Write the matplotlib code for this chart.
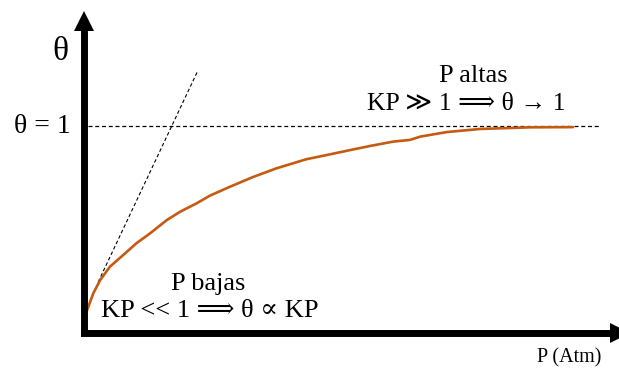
import matplotlib
matplotlib.use("Agg")
import matplotlib.pyplot as plt

# Langmuir isotherm: fractional coverage theta vs. pressure P
pressure = [0.04, 0.19, 0.33, 0.53, 0.80, 1.07, 1.35, 1.69, 1.96, 2.30, 2.57,
            2.98, 3.46, 3.93, 4.54, 4.95, 5.43, 5.84, 6.31, 6.65, 6.86, 7.40,
            8.08, 9.10, 9.98]
coverage = [0.098, 0.194, 0.258, 0.323, 0.379, 0.436, 0.484, 0.548, 0.588,
            0.629, 0.666, 0.709, 0.757, 0.798, 0.842, 0.862, 0.886, 0.906,
            0.927, 0.935, 0.951, 0.973, 0.988, 0.996, 0.997]

# low-pressure (Henry) tangent and the saturation level
tangent_p = [0.29, 2.31]
tangent_theta = [0.249, 1.263]
saturation_p = [0.08, 10.5]
saturation_theta = [1.0, 1.0]

FONT = ["Liberation Serif", "DejaVu Serif", "DejaVu Sans"]

fig = plt.figure(figsize=(6.19, 3.69), dpi=100)
ax = fig.add_axes([0, 0, 1, 1])
ax.set_xlim(-1.714, 10.918)
ax.set_ylim(-0.1715, 1.6111)
ax.set_xticks([])
ax.set_yticks([])
ax.patch.set_alpha(0)

for side in ("top", "right"):
    ax.spines[side].set_visible(False)
for side in ("left", "bottom"):
    sp = ax.spines[side]
    sp.set_position(("data", 0))
    sp.set_linewidth(5)
    sp.set_color("black")
    sp.set_capstyle("projecting")
ax.spines["left"].set_bounds(0, 1.47)
ax.spines["bottom"].set_bounds(0, 10.78)

# arrow heads on the axes
ax.plot(0, 1.511, marker="^", ms=14.4, color="black", mew=0, clip_on=False)
ax.plot(10.93, 0, marker=">", ms=15, color="black", mew=0, clip_on=False)

ax.plot(saturation_p, saturation_theta, color="black", lw=0.9,
        dashes=(3.2, 2.2))
ax.plot(tangent_p, tangent_theta, color="black", lw=0.8, dashes=(3.2, 2.2))
ax.plot(pressure, coverage, color="#C55A11", lw=1.9, solid_capstyle="round",
        solid_joinstyle="round")

ax.text(-0.48, 1.362, "θ", fontsize=24, family=FONT, ha="center", va="center")
ax.text(-0.265, 1.0, "θ = 1", fontsize=20, family=FONT, ha="right",
        va="center")
ax.text(7.94, 1.244, "P altas", fontsize=19, family=FONT, ha="center",
        va="center")
ax.text(7.80, 1.108, "KP ≫ 1 ⟹ θ → 1", fontsize=18.5, family=FONT,
        ha="center", va="center")
ax.text(2.53, 0.239, "P bajas", fontsize=19, family=FONT, ha="center",
        va="center")
ax.text(2.57, 0.109, "KP << 1 ⟹ θ ∝ KP", fontsize=19, family=FONT,
        ha="center", va="center")
ax.text(9.90, -0.118, "P (Atm)", fontsize=14.5, family=FONT, ha="center",
        va="center")

fig.savefig("out.png", dpi=100)
